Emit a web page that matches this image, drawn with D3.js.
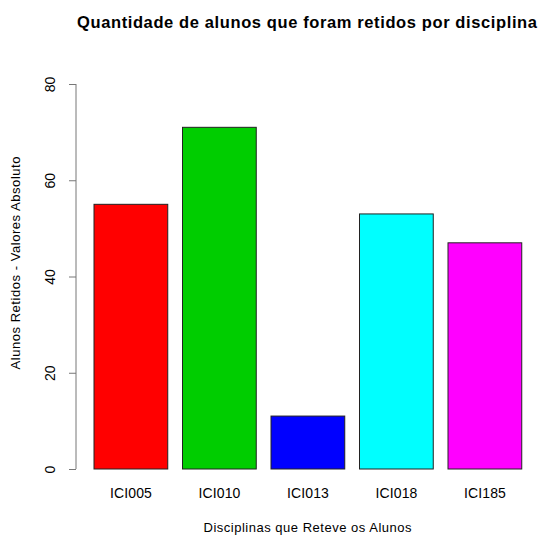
<!DOCTYPE html>
<html><head><meta charset="utf-8">
<script src="https://cdn.jsdelivr.net/npm/d3@7"></script>
<style>body{margin:0;background:#fff}svg{display:block;font-family:"Liberation Sans",Arial,sans-serif}</style>
</head><body>
<script>
const categories = ["ICI005","ICI010","ICI013","ICI018","ICI185"];
const values = [55, 71, 11, 53, 47];
const colors = ["#FF0000","#00CD00","#0000FF","#00FFFF","#FF00FF"];
const yTicks = [0, 20, 40, 60, 80];
const title = "Quantidade de alunos que foram retidos por disciplina";
const xTitle = "Disciplinas que Reteve os Alunos";
const yTitle = "Alunos Retidos - Valores Absoluto";

const W = 539, H = 535;
const svg = d3.select("body").append("svg").attr("width", W).attr("height", H);

// R-like user coordinates: bars width 1, space 0.2
const x = d3.scaleLinear().domain([-0.04, 6.44]).range([76.3, 554.2]);
const y = d3.scaleLinear().domain([0, 80]).range([469, 84]);

const bars = categories.map((c, i) => ({c, v: values[i], l: 0.2 + i * 1.2, r: 1.2 + i * 1.2, col: colors[i]}));

svg.selectAll("rect.bar").data(bars).enter().append("rect")
  .attr("class", "bar")
  .attr("x", d => x(d.l))
  .attr("width", d => x(d.r) - x(d.l))
  .attr("y", d => y(d.v))
  .attr("height", d => y(0) - y(d.v))
  .attr("fill", d => d.col)
  .attr("stroke", "#222")
  .attr("stroke-width", 1);

// y axis
const yAxis = d3.axisLeft(y).tickValues(yTicks).tickSize(7).tickPadding(0).tickFormat(d3.format("d"));
const ga = svg.append("g").attr("transform", "translate(76,0)").call(yAxis);
ga.select(".domain").attr("stroke", "#777").attr("d", `M-0,${y(0)}V${y(80)}`);
ga.selectAll(".tick line").attr("stroke", "#777");
ga.selectAll(".tick text").attr("x", 0).attr("dy", null)
  .attr("text-anchor", "middle").attr("font-size", 14).attr("fill", "#000")
  .attr("font-family", "Liberation Sans, Arial, sans-serif")
  .attr("transform", "translate(-26,0) rotate(-90)").attr("y", 5);

// x labels
svg.selectAll("text.xl").data(bars).enter().append("text")
  .attr("class", "xl")
  .attr("x", d => x((d.l + d.r) / 2))
  .attr("y", 498)
  .attr("text-anchor", "middle")
  .attr("font-size", 14)
  .attr("textLength", 42).attr("lengthAdjust", "spacing")
  .text(d => d.c);

// titles
svg.append("text").attr("x", 307).attr("y", 28).attr("text-anchor", "middle")
  .attr("font-size", 16.5).attr("font-weight", "bold")
  .attr("textLength", 460).attr("lengthAdjust", "spacing").text(title);
svg.append("text").attr("x", 307.5).attr("y", 532).attr("text-anchor", "middle")
  .attr("font-size", 13).attr("textLength", 208).attr("lengthAdjust", "spacing").text(xTitle);
svg.append("text").attr("transform", `translate(20,263) rotate(-90)`).attr("text-anchor", "middle")
  .attr("font-size", 13).attr("textLength", 213).attr("lengthAdjust", "spacing").text(yTitle);
</script>
</body></html>
